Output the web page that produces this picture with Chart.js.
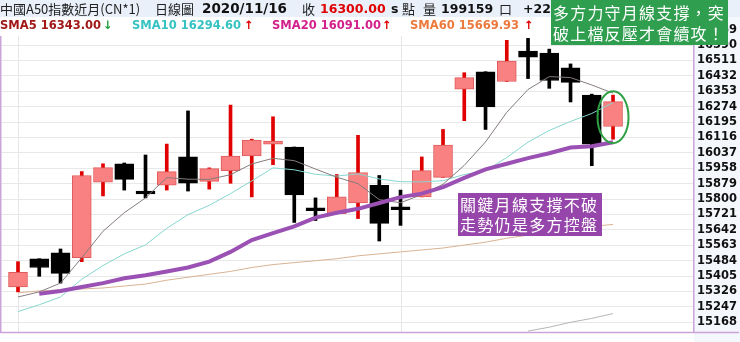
<!DOCTYPE html>
<html><head><meta charset="utf-8">
<script src="https://cdn.jsdelivr.net/npm/chart.js@4.4.0/dist/chart.umd.min.js"></script>
<style>
html,body{margin:0;padding:0;background:#fff;}
#wrap{position:relative;width:740px;height:342px;overflow:hidden;}
canvas{position:absolute;left:0;top:0;}
.t{position:absolute;white-space:nowrap;line-height:17px;top:0;}
.cjk{font-family:"Noto Sans CJK TC","Noto Sans CJK SC",sans-serif;font-size:13px;color:#222;}
.b{font-family:"DejaVu Sans",Verdana,sans-serif;font-weight:bold;font-size:13px;color:#111;}
.s{position:absolute;white-space:nowrap;top:17px;line-height:17px;font-family:"DejaVu Sans",Verdana,sans-serif;font-weight:bold;font-size:11.5px;}
#row1{position:absolute;left:0;top:0;width:740px;height:17px;background:#e9f0fa;}
#row2{position:absolute;left:0;top:17px;width:694px;height:19px;background:#fff;}
#gbox{position:absolute;left:551px;top:0;width:177px;height:45px;background:#2f9e4f;color:#fff;
 font-family:"Noto Sans CJK TC",sans-serif;font-size:16px;letter-spacing:1.2px;line-height:20.5px;padding-left:2px;box-sizing:border-box;padding-top:2px;white-space:nowrap;}
#pbox{position:absolute;left:458px;top:193px;width:144px;height:43px;background:#9646aa;color:#fff;
 font-family:"Noto Sans CJK TC",sans-serif;font-size:16px;letter-spacing:1.3px;line-height:20px;padding-left:2px;box-sizing:border-box;padding-top:1px;white-space:nowrap;}
</style></head><body>
<div id="wrap">
<canvas id="c" width="740" height="342"></canvas>
<div id="row1"></div>
<div id="row2"></div>
<span class="t cjk" style="left:0">中國A50指數近月(CN*1)</span>
<span class="t cjk" style="left:155px">日線圖</span>
<span class="t b" style="left:202px;font-size:13.5px">2020/11/16</span>
<span class="t cjk" style="left:302px">收</span>
<span class="t b" style="left:320px;color:#e00000;font-size:12.5px">16300.00</span>
<span class="t b" style="left:391px;font-size:12.5px">s</span>
<span class="t cjk" style="left:402px">點</span>
<span class="t cjk" style="left:423px">量</span>
<span class="t b" style="left:441px;font-size:12.5px">199159</span>
<span class="t cjk" style="left:499px">口</span>
<span class="t b" style="left:523px;font-size:12.5px">+22</span>
<span class="s" style="left:0;color:#a01818">SMA5 16343.00</span>
<span class="s" style="left:103px;color:#1a9a3a">↓</span>
<span class="s" style="left:132px;color:#36c2c2">SMA10 16294.60</span>
<span class="s" style="left:244px;color:#e00000">↑</span>
<span class="s" style="left:272px;color:#d4208c">SMA20 16091.00</span>
<span class="s" style="left:382px;color:#e00000">↑</span>
<span class="s" style="left:410px;color:#ec7a3c">SMA60 15669.93</span>
<span class="s" style="left:524px;color:#e00000">↑</span>
<div id="gbox">多方力守月線支撐，突<br>破上檔反壓才會續攻！</div>
<div id="pbox">關鍵月線支撐不破<br>走勢仍是多方控盤</div>
</div>
<script>
// ---- data ----
const opens  = [15349,15494,15524,15499,15886,15981,15831,15871,16016,15891,15946,16021,16082,16067,15745,15725,15780,15871,15750,15811,15911,16363,16453,16403,16559,16549,16473,16333,16172];
const closes = [15424,15449,15419,15921,15961,15901,15826,15941,15881,15956,16021,16102,16085,15821,15740,15811,15936,15675,15745,15946,16077,16423,16272,16508,16528,16408,16398,16082,16300];
const highs  = [15479,15494,15544,15941,15981,15985,16026,16082,16252,15960,16282,16107,16222,16067,15806,15926,16127,15921,15846,16016,16157,16448,16453,16614,16624,16569,16493,16338,16333];
const lows   = [15324,15404,15369,15479,15816,15846,15806,15846,15841,15851,15881,15811,15976,15680,15690,15725,15700,15585,15665,15811,15911,16202,16157,16403,16418,16368,16298,15971,16107];
const sma5   = [15298,15324,15369,15499,15635,15730,15806,15910,15902,15901,15925,15980,16009,15997,15954,15912,15879,15797,15781,15823,15876,15973,16093,16245,16362,16428,16423,16385,16343];
const sma10  = [15223,15258,15298,15389,15459,15519,15565,15650,15720,15768,15828,15893,15960,15950,15927,15918,15929,15903,15889,15888,15894,15926,15945,16013,16092,16152,16198,16239,16294.6];
const sma20  = [null,15314,15329,15349,15369,15394,15409,15429,15449,15479,15529,15590,15625,15660,15705,15730,15750,15780,15810,15828,15861,15909,15952,15981,16010,16035,16064,16071,16091];
const sma60  = [15319,15329,15334,15339,15344,15354,15364,15384,15399,15414,15429,15449,15464,15474,15484,15494,15509,15519,15529,15539,15549,15564,15579,15599,15615,15630,15645,15660,15669.93];
const smaLong= [null,null,null,null,null,null,null,null,null,null,null,null,null,null,null,null,null,null,null,null,null,null,null,null,15123,15143,15168,15188,15213];
const yTicks = [15168,15247,15326,15405,15484,15563,15642,15721,15800,15879,15958,16037,16116,16195,16274,16353,16432,16511,16590,16669];
const vGridAt = [0,18];

const up = closes.map((c,i)=>c>=opens[i]);
const pts = arr => arr.map((v,i)=>v==null?null:{x:i,y:v}).filter(p=>p);
const line = (arr,color,w,order)=>({type:'line',data:pts(arr),borderColor:color,borderWidth:w,pointRadius:0,tension:0,order:order,fill:false});

const framePlugin = {
  id:'frame',
  beforeDraw(chart){
    const ctx=chart.ctx, a=chart.chartArea;
    ctx.save();
    ctx.fillStyle='#f4f7fc';
    ctx.fillRect(a.right,0,740-a.right,342);
    ctx.restore();
  },
  beforeDatasetsDraw(chart){
    const ctx=chart.ctx, a=chart.chartArea, xs=chart.scales.x;
    ctx.save();
    ctx.strokeStyle='#e6e6e6';ctx.lineWidth=1;
    vGridAt.forEach(v=>{
      const px=Math.round(xs.getPixelForValue(v))+0.5;
      ctx.beginPath();ctx.moveTo(px,a.top);ctx.lineTo(px,a.bottom);ctx.stroke();
    });
    ctx.restore();
  },
  afterDraw(chart){
    const ctx=chart.ctx, a=chart.chartArea;
    ctx.save();
    ctx.strokeStyle='#c9a3d9';ctx.lineWidth=1.5;
    ctx.beginPath();
    ctx.moveTo(0.75,a.top);ctx.lineTo(0.75,a.bottom+0.5);ctx.lineTo(739,a.bottom+0.5);
    ctx.stroke();
    const xs=chart.scales.x, ys=chart.scales.y;
    const cx=xs.getPixelForValue(28), cy=ys.getPixelForValue((highs[28]+lows[28])/2);
    ctx.strokeStyle='#2ea043';ctx.lineWidth=2;
    ctx.beginPath();ctx.ellipse(cx,cy,15.5,26,0,0,Math.PI*2);ctx.stroke();
    ctx.restore();
  }
};

new Chart(document.getElementById('c'),{
  type:'bar',
  data:{datasets:[
    line(sma5,'#857c7c',1,1),
    line(sma10,'#86d6cf',1,2),
    line(sma20,'#9b50b4',4,0),
    line(sma60,'#d8b393',1,3),
    line(smaLong,'#b5b5b5',1,3),
    {type:'bar',grouped:false,order:5,barThickness:19,minBarLength:3,
     data:opens.map((o,i)=>({x:i,y:[o,closes[i]]})),
     backgroundColor:up.map(u=>u?'#f98181':'#000'),
     borderColor:up.map(u=>u?'#df5a5a':'#000'),
     borderWidth:1,borderSkipped:false},
    {type:'bar',grouped:false,order:6,barThickness:3,
     data:lows.map((l,i)=>({x:i,y:[l,highs[i]]})),
     backgroundColor:up.map(u=>u?'#e00000':'#000'),
     borderWidth:0}
  ]},
  options:{
    responsive:false,animation:false,
    layout:{padding:{top:18,bottom:3,left:1,right:0}},
    plugins:{legend:{display:false},tooltip:{enabled:false}},
    scales:{
      x:{type:'linear',min:-0.8,max:31.81,offset:false,
         ticks:{display:false},border:{display:false},
         grid:{display:false,drawTicks:false},
         afterFit:s=>{s.height=0;}},
      y:{type:'linear',position:'right',min:15117.8,max:16728.5,
         ticks:{color:'#111',padding:3,autoSkip:false,callback:v=>String(v),font:{family:'"DejaVu Sans", Verdana, sans-serif',weight:'bold',size:11.5}},
         border:{display:true,color:'#c9a3d9',width:1.5},
         grid:{color:'#e8e8e8',drawTicks:false},
         afterBuildTicks:s=>{s.ticks=yTicks.map(v=>({value:v}));},
         afterFit:s=>{s.width=46;}}
    }
  },
  plugins:[framePlugin]
});
</script>
</body></html>
